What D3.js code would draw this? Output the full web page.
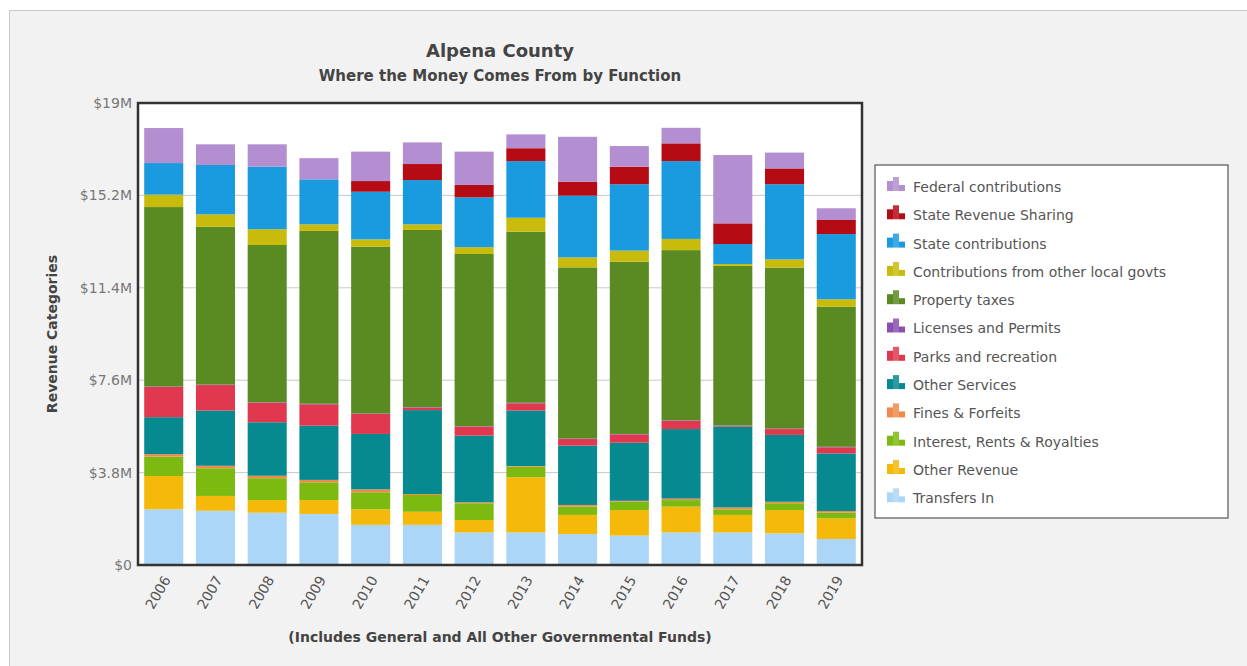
<!DOCTYPE html>
<html>
<head>
<meta charset="utf-8">
<script src="https://cdn.jsdelivr.net/npm/d3@7"></script>
<style>
  body { margin: 0; background: #fff; }
  text { font-family: "DejaVu Sans", Verdana, sans-serif; }
</style>
</head>
<body>
<div id="chart"></div>
<script>
// years on the x axis
var years = ["2006","2007","2008","2009","2010","2011","2012","2013","2014","2015","2016","2017","2018","2019"]

// series, bottom of the stack first (values in $M)
var transfersIn    = [2.29, 2.23, 2.15, 2.10, 1.65, 1.65, 1.34, 1.34, 1.27, 1.21, 1.34, 1.34, 1.30, 1.07]
var otherRevenue   = [1.37, 0.61, 0.52, 0.57, 0.64, 0.54, 0.51, 2.27, 0.79, 1.05, 1.06, 0.72, 0.96, 0.85]
var interestRents  = [0.80, 1.14, 0.90, 0.73, 0.70, 0.69, 0.69, 0.43, 0.34, 0.34, 0.27, 0.23, 0.28, 0.23]
var finesForfeits  = [0.10, 0.10, 0.10, 0.10, 0.12, 0.04, 0.04, 0.03, 0.07, 0.04, 0.06, 0.08, 0.06, 0.07]
var otherServices  = [1.52, 2.27, 2.20, 2.23, 2.28, 3.45, 2.74, 2.28, 2.44, 2.39, 2.86, 3.32, 2.75, 2.37]
var parksRec       = [1.24, 1.05, 0.80, 0.88, 0.82, 0.10, 0.37, 0.30, 0.27, 0.34, 0.34, 0.03, 0.24, 0.25]
var licenses       = [0.02, 0.02, 0.02, 0.02, 0.02, 0.02, 0.02, 0.02, 0.02, 0.02, 0.02, 0.02, 0.02, 0.02]
var propertyTaxes  = [7.38, 6.49, 6.47, 7.11, 6.86, 7.29, 7.08, 7.04, 7.04, 7.08, 7.00, 6.56, 6.62, 5.76]
var localGovts     = [0.51, 0.51, 0.65, 0.27, 0.30, 0.23, 0.28, 0.57, 0.41, 0.46, 0.46, 0.08, 0.34, 0.31]
var stateContrib   = [1.30, 2.03, 2.57, 1.85, 1.96, 1.82, 2.05, 2.33, 2.54, 2.73, 3.20, 0.82, 3.09, 2.68]
var stateRevShare  = [0.00, 0.00, 0.00, 0.00, 0.44, 0.66, 0.51, 0.53, 0.57, 0.72, 0.73, 0.85, 0.65, 0.58]
var federalContrib = [1.44, 0.85, 0.92, 0.87, 1.21, 0.89, 1.37, 0.57, 1.85, 0.85, 0.64, 2.81, 0.65, 0.48]

var seriesNames = ["Transfers In", "Other Revenue", "Interest, Rents & Royalties", "Fines & Forfeits",
  "Other Services", "Parks and recreation", "Licenses and Permits", "Property taxes",
  "Contributions from other local govts", "State contributions", "State Revenue Sharing", "Federal contributions"]
var seriesValues = [transfersIn, otherRevenue, interestRents, finesForfeits, otherServices, parksRec,
  licenses, propertyTaxes, localGovts, stateContrib, stateRevShare, federalContrib]
var colors = ["#acd6f7", "#f5b90a", "#7cba12", "#f08a4b", "#078a8f", "#e0384f",
  "#8a4fb0", "#5a8a22", "#c9bb0c", "#1a9be0", "#b50b14", "#b38ed0"]

var yTicks = [0, 3.8, 7.6, 11.4, 15.2, 19]
var yTickLabels = ["$0", "$3.8M", "$7.6M", "$11.4M", "$15.2M", "$19M"]

var W = 1247, H = 666
var margin = {left: 138, top: 103, right: 385, bottom: 101}
var plotW = W - margin.left - margin.right
var plotH = H - margin.top - margin.bottom

var svg = d3.select("#chart").append("svg")
  .attr("width", W).attr("height", H)

// outer panel
svg.append("rect").attr("x", 9.5).attr("y", 10.5).attr("width", W).attr("height", H)
  .attr("fill", "#f2f2f2").attr("stroke", "#c8c8c8")

// build rows for the stack
var rows = years.map(function(y, i) {
  var r = {year: y}
  seriesNames.forEach(function(n, k) { r[n] = seriesValues[k][i] })
  return r
})
var stacked = d3.stack().keys(seriesNames)(rows)

var x = d3.scaleBand().domain(years).range([0, plotW]).paddingInner(0.245).paddingOuter(0.12)
var y = d3.scaleLinear().domain([0, 19]).range([plotH, 0])

var g = svg.append("g").attr("transform", "translate(" + margin.left + "," + margin.top + ")")

g.append("rect").attr("width", plotW).attr("height", plotH).attr("fill", "#fff")

// gridlines
g.selectAll(".grid").data(yTicks.slice(1, -1)).enter().append("line")
  .attr("x1", 0).attr("x2", plotW)
  .attr("y1", function(d) { return y(d) }).attr("y2", function(d) { return y(d) })
  .attr("stroke", "#c9c9c9").attr("stroke-width", 1)

// bars
g.selectAll(".layer").data(stacked).enter().append("g")
  .attr("fill", function(d, i) { return colors[i] })
  .selectAll("rect").data(function(d) { return d }).enter().append("rect")
    .attr("x", function(d) { return x(d.data.year) })
    .attr("width", x.bandwidth())
    .attr("y", function(d) { return y(d[1]) })
    .attr("height", function(d) { return Math.max(0, y(d[0]) - y(d[1])) })

// frame
g.append("rect").attr("width", plotW).attr("height", plotH)
  .attr("fill", "none").attr("stroke", "#333").attr("stroke-width", 2.5)

// y axis
var yAxis = g.append("g").call(d3.axisLeft(y).tickValues(yTicks)
  .tickFormat(function(d, i) { return yTickLabels[i] }).tickSize(0).tickPadding(6))
yAxis.select(".domain").remove()
yAxis.selectAll("text").attr("font-size", 14).attr("fill", "#777")
  .style("font-family", "DejaVu Sans, sans-serif")

// x axis
var xAxis = g.append("g").attr("transform", "translate(0," + plotH + ")")
  .call(d3.axisBottom(x).tickSize(0).tickPadding(6))
xAxis.select(".domain").remove()
xAxis.selectAll("text").attr("font-size", 14).attr("fill", "#555")
  .style("font-family", "DejaVu Sans, sans-serif")
  .attr("text-anchor", "end")
  .attr("transform", "translate(-2,9) rotate(-60)")
  .attr("dy", "0.35em")

// titles
svg.append("text").attr("x", 500).attr("y", 57).attr("text-anchor", "middle")
  .attr("font-size", 18).attr("font-weight", "bold").attr("fill", "#444").text("Alpena County")
svg.append("text").attr("x", 500).attr("y", 81).attr("text-anchor", "middle")
  .attr("font-size", 15).attr("font-weight", "bold").attr("fill", "#444").text("Where the Money Comes From by Function")
svg.append("text").attr("transform", "translate(57," + (margin.top + plotH / 2) + ") rotate(-90)")
  .attr("text-anchor", "middle").attr("font-size", 14).attr("font-weight", "bold").attr("fill", "#444")
  .text("Revenue Categories")
svg.append("text").attr("x", 500).attr("y", 642).attr("text-anchor", "middle")
  .attr("font-size", 14).attr("font-weight", "bold").attr("fill", "#444")
  .text("(Includes General and All Other Governmental Funds)")

// legend
var legend = svg.append("g").attr("transform", "translate(875,165)")
legend.append("rect").attr("width", 353).attr("height", 353)
  .attr("fill", "#fff").attr("stroke", "#555").attr("stroke-width", 1.2)

var legendOrder = seriesNames.slice().reverse()
var item = legend.selectAll(".item").data(legendOrder).enter().append("g")
  .attr("transform", function(d, i) { return "translate(12," + (22 + i * 28.3) + ")" })

// small bar-chart icon
item.each(function(d) {
  var c = colors[seriesNames.indexOf(d)]
  var ic = d3.select(this)
  ic.append("rect").attr("x", 0).attr("y", -6).attr("width", 6).attr("height", 10).attr("fill", c)
  ic.append("rect").attr("x", 6).attr("y", -10).attr("width", 6).attr("height", 14).attr("fill", c).attr("opacity", 0.85)
  ic.append("rect").attr("x", 12).attr("y", -2).attr("width", 6).attr("height", 6).attr("fill", c)
})
item.append("text").attr("x", 26).attr("y", 0).attr("dy", "0.35em")
  .attr("font-size", 14).attr("fill", "#555").text(function(d) { return d })
</script>
</body>
</html>
